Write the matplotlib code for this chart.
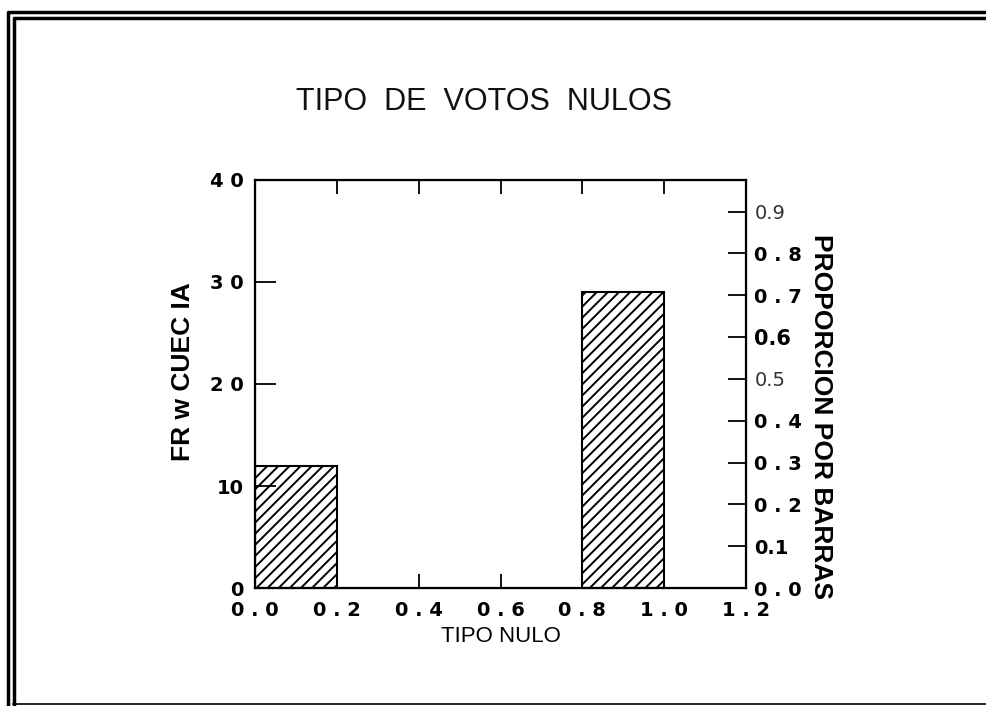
import matplotlib
matplotlib.use("Agg")
import matplotlib.pyplot as plt
from matplotlib.lines import Line2D

# histogram of null-vote type: two occupied bins
bin_left = [0.0, 0.8]
bin_width = 0.2
counts = [12, 29]

x_ticks = [0.0, 0.2, 0.4, 0.6, 0.8, 1.0, 1.2]
x_labels = ["0 . 0", "0 . 2", "0 . 4", "0 . 6", "0 . 8", "1 . 0", "1 . 2"]
count_ticks = [0, 10, 20, 30, 40]
count_labels = ["0", "10", "2 0", "3 0", "4 0"]
prop_ticks = [0.0, 0.1, 0.2, 0.3, 0.4, 0.5, 0.6, 0.7, 0.8, 0.9]
prop_labels = ["0 . 0", "0.1", "0 . 2", "0 . 3", "0 . 4", "0.5", "0.6", "0 . 7", "0 . 8", "0.9"]

total = sum(counts)
tick_font = dict(family="DejaVu Sans", fontweight="bold", fontsize=14)

plt.rcParams["hatch.linewidth"] = 1.4

fig = plt.figure(figsize=(9.87, 7.06), dpi=100)
ax = fig.add_axes([0.2584, 0.1671, 0.4975, 0.578])

ax.bar(bin_left, counts, width=bin_width, align="edge",
       facecolor="white", edgecolor="black", linewidth=1.5, hatch="///")
ax.set_xlim(0, 1.2)
ax.set_ylim(0, 40)

for s in ax.spines.values():
    s.set_linewidth(1.6)

ax.set_xticks(x_ticks)
ax.set_xticklabels(x_labels, **tick_font)
ax.set_yticks(count_ticks)
ax.set_yticklabels(count_labels, **tick_font)
ax.tick_params(axis="x", direction="in", length=10, width=1.3, top=True, pad=9)
ax.tick_params(axis="y", direction="in", length=15, width=1.3, pad=8)
ax.set_xlabel("TIPO NULO", fontsize=16, family="Liberation Sans", labelpad=5)
ax.set_ylabel("FR w CUEC IA", fontsize=19, fontweight="bold", family="Liberation Sans")
ax.yaxis.set_label_coords(-0.122, 0.53)

# right axis: proportion of the total per bar
ax2 = ax.twinx()
ax2.set_ylim(0, 40 / total)
ax2.set_yticks(prop_ticks)
ax2.set_yticklabels(prop_labels, **tick_font)
ax2.tick_params(axis="y", direction="in", length=13, width=1.3, pad=6)
for lbl in ax2.get_yticklabels():
    if lbl.get_text() in ("0.9", "0.5"):
        lbl.set_fontweight("normal")
        lbl.set_color("#333333")
        lbl.set_fontsize(14)
    elif lbl.get_text() == "0.6":
        lbl.set_fontsize(15)
ax2.set_ylabel("PROPORCION POR BARRAS", rotation=-90, fontsize=19,
               fontweight="bold", family="Liberation Sans")
ax2.yaxis.set_label_coords(1.178, 0.42)

fig.text(0.49, 0.855, "TIPO  DE  VOTOS  NULOS", ha="center", va="center",
         fontsize=22, family="Liberation Sans", color="#111111")

# double page border
kw = dict(color="black", linewidth=2.5, solid_capstyle="butt")
fig.add_artist(Line2D([0.007, 1.0], [1 - 12 / 706] * 2, transform=fig.transFigure, **kw))
fig.add_artist(Line2D([0.013, 1.0], [1 - 17.5 / 706] * 2, transform=fig.transFigure, **kw))
fig.add_artist(Line2D([8 / 987] * 2, [0, 1 - 11 / 706], transform=fig.transFigure, **kw))
fig.add_artist(Line2D([14 / 987] * 2, [0, 1 - 16.5 / 706], transform=fig.transFigure, **kw))
fig.add_artist(Line2D([0.013, 1.0], [2 / 706] * 2, transform=fig.transFigure,
                      color="black", linewidth=1.2))

fig.savefig("out.png", dpi=100, facecolor="white")
